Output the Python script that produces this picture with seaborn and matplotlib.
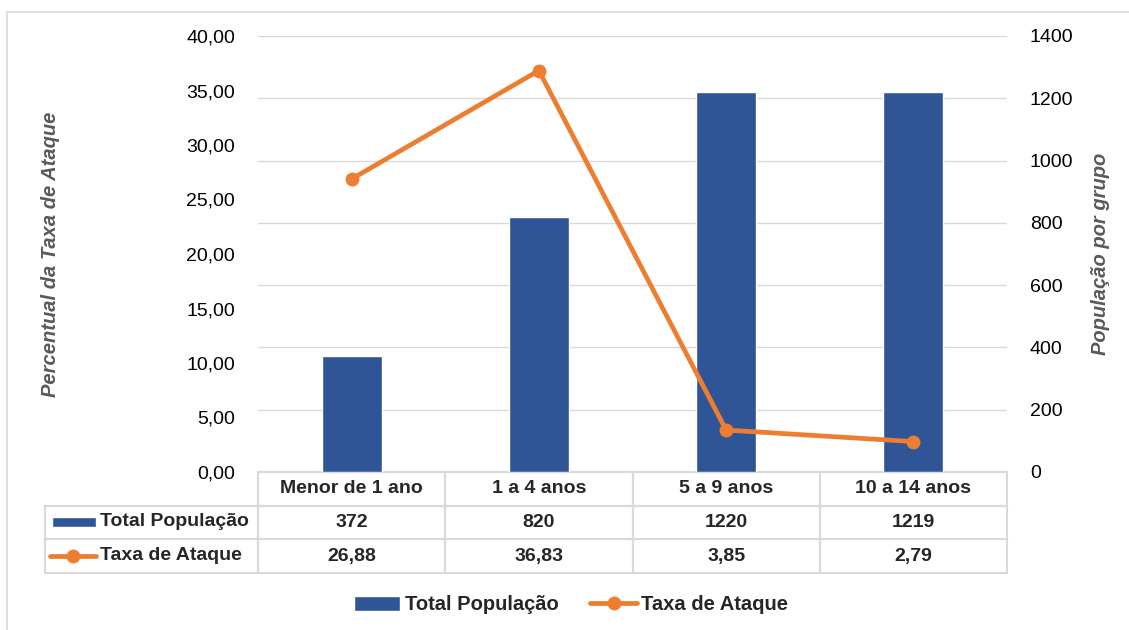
import numpy as np
import pandas as pd
import matplotlib
matplotlib.use('Agg')
import matplotlib.pyplot as plt
import seaborn as sns
from matplotlib.table import Table
from matplotlib.lines import Line2D
from matplotlib.patches import Patch, Rectangle
from matplotlib.ticker import FuncFormatter

faixas = ['Menor de 1 ano', '1 a 4 anos', '5 a 9 anos', '10 a 14 anos']
total_populacao = [372, 820, 1220, 1219]
taxa_ataque = [26.88, 36.83, 3.85, 2.79]

BLUE = '#2F5597'
ORANGE = '#ED7D31'
GRID = '#D9D9D9'

sns.set_theme(style='white')
plt.rcParams['font.family'] = ['Liberation Sans', 'DejaVu Sans']

df = pd.DataFrame({'Faixa': faixas,
                   'Total População': total_populacao,
                   'Taxa de Ataque': taxa_ataque})

fig = plt.figure(figsize=(11.29, 6.30), dpi=100)
fig.patch.set_facecolor('white')
# light outer frame of the chart area
fig.patches.append(Rectangle((7 / 1129, -0.1), 1.2, 1 - 12 / 630 + 0.1,
                             transform=fig.transFigure, fill=False,
                             edgecolor=GRID, linewidth=1.2, zorder=0))

ax = fig.add_axes([258 / 1129, (630 - 472) / 630, 749 / 1129, 436 / 630])
sns.barplot(data=df, x='Faixa', y='Total População', color=BLUE,
            width=0.32, saturation=1, ax=ax)

ax2 = ax.twinx()
sns.lineplot(data=df, x='Faixa', y='Taxa de Ataque', color=ORANGE,
             linewidth=3.4, marker='o', markersize=10, markeredgewidth=0,
             sort=False, ax=ax2)

# bars -> right axis
ax.set_ylim(0, 1400)
ax.set_yticks(np.arange(0, 1401, 200))
ax.yaxis.tick_right()
ax.yaxis.set_label_position('right')
ax.tick_params(axis='y', length=0, pad=16.5, labelsize=14, labelcolor='#000000')
ax.tick_params(axis='x', length=0, labelbottom=False)
ax.set_xlabel('')
ax.set_ylabel('População por grupo', fontsize=14.5, fontstyle='italic',
              fontweight='bold', color='#595959')
ax.yaxis.set_label_coords(1.112, 0.5)
for s in ax.spines.values():
    s.set_visible(False)
ax.grid(axis='y', color=GRID, linewidth=1)
ax.set_axisbelow(True)

# line -> left axis
ax2.set_ylim(0, 40)
ax2.set_yticks(np.arange(0, 41, 5))
ax2.yaxis.tick_left()
ax2.yaxis.set_label_position('left')
ax2.yaxis.set_major_formatter(FuncFormatter(lambda v, p: f'{v:.2f}'.replace('.', ',')))
ax2.tick_params(axis='y', length=0, pad=16.5, labelsize=14, labelcolor='#000000')
ax2.set_ylabel('Percentual da Taxa de Ataque', fontsize=14.5, fontstyle='italic',
               fontweight='bold', color='#595959')
ax2.yaxis.set_label_coords(-0.265, 0.5)
ax2.set_xlabel('')
ax2.tick_params(axis='x', length=0, labelbottom=False)
for s in ax2.spines.values():
    s.set_visible(False)
ax.set_xlim(-0.5, len(faixas) - 0.5)

# data table under the axes
lab_w = 213 / 749
tab = Table(ax, bbox=[-lab_w, -101 / 436, 1 + lab_w, 101 / 436])
tab.auto_set_font_size(False)
rows = [faixas,
        [str(v) for v in total_populacao],
        [f'{v:.2f}'.replace('.', ',') for v in taxa_ataque]]
for r, vals in enumerate(rows):
    c = tab.add_cell(r, 0, width=lab_w, height=1 / 3, text='',
                     facecolor='none', edgecolor=GRID)
    c.set_linewidth(1.5)
    if r == 0:
        c.visible_edges = ''
    for j, v in enumerate(vals):
        cell = tab.add_cell(r, j + 1, width=1 / len(faixas), height=1 / 3,
                            text=v, loc='center', facecolor='none',
                            edgecolor=GRID)
        cell.set_linewidth(1.5)
        cell.get_text().set_fontsize(14)
        cell.get_text().set_fontweight('bold')
ax.add_table(tab)

row_y = [-(50 / 436), -(84 / 436)]
ax.add_patch(Rectangle((-206 / 749, row_y[0] - 5 / 436), 44 / 749, 10 / 436,
                       transform=ax.transAxes, facecolor=BLUE, clip_on=False))
ax.add_line(Line2D([-208 / 749, -162 / 749], [row_y[1], row_y[1]],
                   transform=ax.transAxes, color=ORANGE, linewidth=3.4,
                   clip_on=False))
ax.add_line(Line2D([-185 / 749], [row_y[1]], transform=ax.transAxes,
                   color=ORANGE, marker='o', markersize=10, markeredgewidth=0,
                   clip_on=False))
for y, txt in zip(row_y, ['Total População', 'Taxa de Ataque']):
    ax.text(-158 / 749, y, txt, transform=ax.transAxes, ha='left',
            va='center', fontsize=14, fontweight='bold')

handles = [Patch(facecolor=BLUE),
           Line2D([], [], color=ORANGE, linewidth=3.4, marker='o',
                  markersize=10, markeredgewidth=0)]
fig.legend(handles, ['Total População', 'Taxa de Ataque'], ncol=2,
           loc='center', bbox_to_anchor=(571 / 1129, 1 - 605 / 630),
           frameon=False, handlelength=2.3, handletextpad=0.2,
           columnspacing=1.6, prop={'weight': 'bold', 'size': 14.5})

fig.savefig('out.png', dpi=100)
